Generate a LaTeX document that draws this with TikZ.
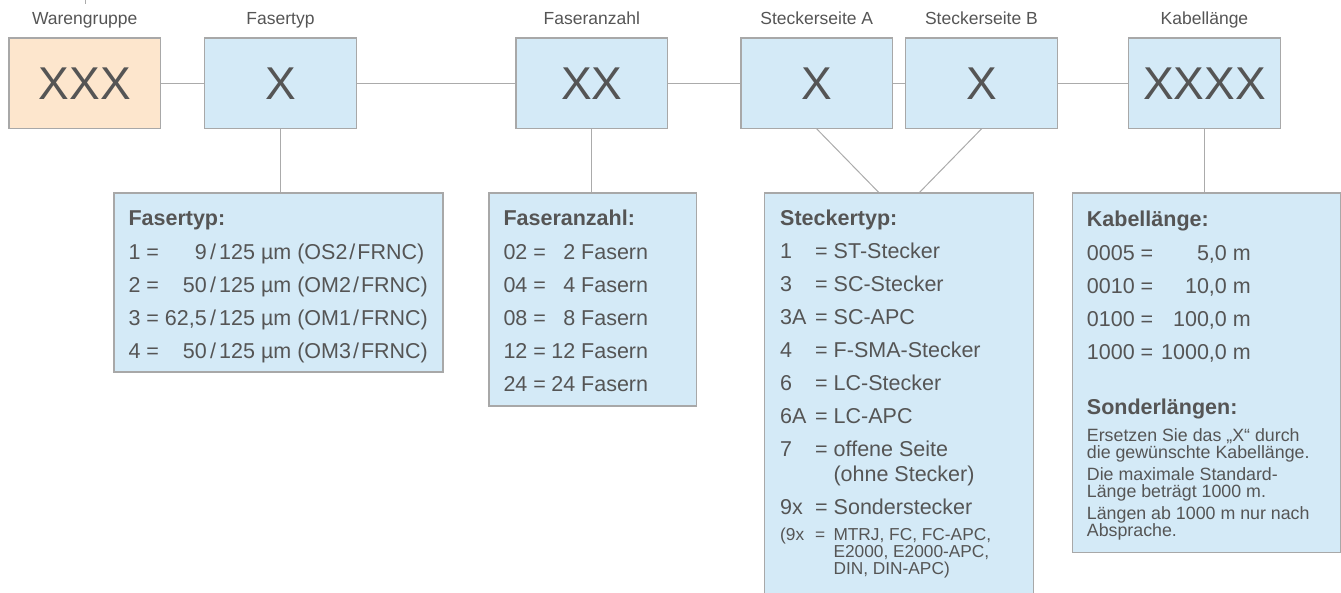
\documentclass[tikz,border=0pt]{standalone}
\usepackage{fontspec}
\setmainfont{Liberation Sans}
\definecolor{txt}{HTML}{555555}
\definecolor{boxblue}{HTML}{D4EAF7}
\definecolor{boxorange}{HTML}{FDE6CD}
\definecolor{edge}{HTML}{A8A8A8}
\definecolor{wirec}{HTML}{ABABAB}
\begin{document}
\begin{tikzpicture}[x=1pt,y=-1pt,
 codebox/.style={draw=edge,line width=1.2pt,fill=boxblue,minimum width=151.7pt,minimum height=90.4pt,inner sep=0pt,anchor=north west,text=txt,font=\fontsize{46}{50}\selectfont,text height=33pt,text depth=0pt},
 infobox/.style={draw=edge,line width=1.2pt,fill=boxblue,inner sep=0pt,anchor=north west},
 toplbl/.style={anchor=base,inner sep=0pt,text=txt,font=\fontsize{17.5}{21}\selectfont},
 wire/.style={draw=wirec,line width=1pt},
 lt/.style={anchor=base west,inner sep=0pt,text=txt,font=\fontsize{21.5}{26}\selectfont},
 lr/.style={lt,anchor=base east},
 ttl/.style={lt,font=\bfseries\fontsize{21.5}{26}\selectfont},
 sm/.style={anchor=base west,inner sep=0pt,text=txt,font=\fontsize{17.3}{21}\selectfont},
 smk/.style={sm,font=\fontsize{17.8}{21}\selectfont},
]
\useasboundingbox (0,0) rectangle (1341,592);

% code boxes
\node[codebox,fill=boxorange] (W) at (8.3,37.3) {XXX};
\node[codebox] (F) at (204,37.3) {X};
\node[codebox] (FA) at (515.3,37.3) {XX};
\node[codebox] (SA) at (740.3,37.3) {X};
\node[codebox] (SB) at (905,37.3) {X};
\node[codebox] (K) at (1128,37.3) {XXXX};

% top labels
\node[toplbl] (Wl) at ([yshift=13.3pt]W.north) {Warengruppe};
\node[toplbl] (Fl) at ([yshift=13.3pt]F.north) {Fasertyp};
\node[toplbl] (FAl) at ([yshift=13.3pt]FA.north) {Faseranzahl};
\node[toplbl] (SAl) at ([yshift=13.3pt]SA.north) {Steckerseite A};
\node[toplbl] (SBl) at ([yshift=13.3pt]SB.north) {Steckerseite B};
\node[toplbl] (Kl) at ([yshift=13.3pt]K.north) {Kabellänge};

% tiny mark at top
\coordinate (tk1) at (85,-2);
\coordinate (tk2) at (85,4);
\draw[wire] (tk1) -- (tk2);

% info boxes
\node[infobox,minimum width=329pt,minimum height=179pt] (FT) at (113.3,192.3) {};
\node[infobox,minimum width=207.4pt,minimum height=213pt] (FZ) at (488.3,192.3) {};
\node[infobox,minimum width=269pt,minimum height=420pt] (ST) at (763.5,192.3) {};
\node[infobox,minimum width=267.8pt,minimum height=359.7pt] (KL) at (1071.7,192.3) {};

% connectors
\draw[wire] (W.east) -- (F.west);
\draw[wire] (F.east) -- (FA.west);
\draw[wire] (FA.east) -- (SA.west);
\draw[wire] (SA.east) -- (SB.west);
\draw[wire] (SB.east) -- (K.west);
\draw[wire] (F.south) -- (F.south |- FT.north);
\draw[wire] (FA.south) -- (FA.south |- FZ.north);
\draw[wire] (K.south) -- (K.south |- KL.north);
\draw[wire] (SA.south) -- ([xshift=-20pt]ST.north);
\draw[wire] (SB.south) -- ([xshift=21pt]ST.north);

% Fasertyp
\node[ttl] (ftt) at (128.3,225.5) {Fasertyp:};
\foreach \cc/\nn/\rr/\yy in {1/9/OS2/259.5,2/50/OM2/292.5,3/{62,5}/OM1/325.5,4/50/OM3/358.5}{
 \node[lt] (ftc\cc) at (128.3,\yy) {\cc\ =};
 \node[lr] (ftn\cc) at (207,\yy) {\nn};
 \node[lt] (ftr\cc) at (207,\yy) {\kern3pt/\kern3pt125 µm (\rr\kern2pt/\kern2pt FRNC)};
}

% Faseranzahl
\node[ttl] (fzt) at (503.3,225.7) {Faseranzahl:};
\foreach \cc/\nn/\yy in {02/2/259.3,04/4/292.3,08/8/325.4,12/12/358.5,24/24/391.6}{
 \node[lt] (fzc\cc) at (503.3,\yy) {\cc\ =};
 \node[lr] (fzn\cc) at (648.3,\yy) {\nn\ Fasern};
}

% Steckertyp
\node[ttl] (stt) at (780,225) {Steckertyp:};
\foreach \i/\cc/\tx/\yy in {1/1/ST-Stecker/258.5,2/3/SC-Stecker/291.5,3/3A/SC-APC/324.5,4/4/F-SMA-Stecker/357.5,5/6/LC-Stecker/390.5,6/6A/LC-APC/423.5,7/7/offene Seite/456.5,8/9x/Sonderstecker/514}{
 \node[lt] (stc\i) at (780,\yy) {\cc};
 \node[lt] (ste\i) at (815,\yy) {= \tx};
}
\node[lt] (sto) at (833.3,481.5) {(ohne Stecker)};
\node[sm] (sm1) at (780,540) {(9x};
\node[sm] (sm2) at (815,540) {=};
\node[sm] (sm3) at (833.3,540) {MTRJ, FC, FC-APC,};
\node[sm] (sm4) at (833.3,557) {E2000, E2000-APC,};
\node[sm] (sm5) at (833.3,574) {DIN, DIN-APC)};

% Kabellaenge
\node[ttl] (klt) at (1086.7,226) {Kabellänge:};
\foreach \i/\cc/\vv/\yy in {1/0005/{5,0}/260,2/0010/{10,0}/293,3/0100/{100,0}/326,4/1000/{1000,0}/359}{
 \node[lt] (klc\i) at (1086.7,\yy) {\cc\ =};
 \node[lr] (klv\i) at (1251,\yy) {\vv\ m};
}
\node[ttl] (kls) at (1086.7,414) {Sonderlängen:};
\node[smk] (kl1) at (1086.7,441) {Ersetzen Sie das „X“ durch};
\node[smk] (kl2) at (1086.7,458) {die gewünschte Kabellänge.};
\node[smk] (kl3) at (1086.7,480) {Die maximale Standard-};
\node[smk] (kl4) at (1086.7,497) {Länge beträgt 1000 m.};
\node[smk] (kl5) at (1086.7,519) {Längen ab 1000 m nur nach};
\node[smk] (kl6) at (1086.7,536) {Absprache.};
\end{tikzpicture}
\end{document}
